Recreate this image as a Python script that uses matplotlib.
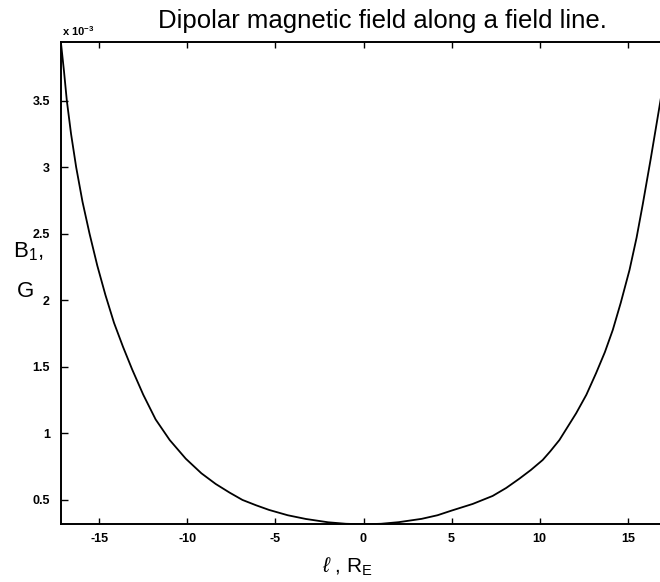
import matplotlib.pyplot as plt
from matplotlib.ticker import FuncFormatter

plt.rcParams['font.family'] = ['Liberation Sans', 'DejaVu Sans']
plt.rcParams['mathtext.fontset'] = 'custom'
plt.rcParams['mathtext.rm'] = 'Liberation Sans'
plt.rcParams['mathtext.it'] = 'Liberation Sans:italic'
plt.rcParams['mathtext.bf'] = 'Liberation Sans:bold'
plt.rcParams['axes.unicode_minus'] = False

# distance along the field line, R_E
ell = [-17.17, -17.0, -16.84, -16.6, -16.31, -15.95, -15.55, -15.11, -14.65,
       -14.16, -13.65, -13.13, -12.5, -11.8, -11.0, -10.09, -9.2, -8.39,
       -7.6, -6.87, -6.1, -5.36, -4.3, -3.27, -2.0, -1.0, 0.0,
       1.0, 2.0, 3.3, 4.2, 5.0, 6.2, 7.33, 8.1, 8.85, 9.5, 10.17, 10.6,
       11.12, 12.07, 12.65, 13.2, 13.7, 14.15, 14.6, 15.1, 15.5, 15.85, 16.3,
       16.8, 17.17]
# field magnitude, units of 1e-3 G
b_field = [3.93, 3.72, 3.5, 3.25, 3.0, 2.74, 2.5, 2.26, 2.04,
           1.83, 1.65, 1.48, 1.29, 1.105, 0.95, 0.81, 0.70, 0.62,
           0.555, 0.5, 0.46, 0.425, 0.385, 0.357, 0.332, 0.321, 0.317,
           0.321, 0.333, 0.358, 0.385, 0.42, 0.47, 0.53, 0.59, 0.66, 0.725,
           0.80, 0.865, 0.95, 1.151, 1.29, 1.452, 1.61, 1.777, 1.98, 2.228,
           2.47, 2.72, 3.06, 3.455, 3.75]
x_ticks = [-15, -10, -5, 0, 5, 10, 15]
y_ticks = [0.5, 1.0, 1.5, 2.0, 2.5, 3.0, 3.5]

W, H = 660, 582
fig = plt.figure(figsize=(W / 100, H / 100), dpi=100)
# right edge of the box falls just outside the picture, as in the scan
ax = fig.add_axes([61 / W, (H - 524.3) / H, 605 / W, 481.8 / H])

ax.plot(ell, [b * 1e-3 for b in b_field], color='black', lw=1.3)
ax.set_xlim(-17.17, 17.17)
ax.set_ylim(0.317e-3, 3.936e-3)
ax.set_xticks(x_ticks)
ax.set_yticks([t * 1e-3 for t in y_ticks])
ax.yaxis.set_major_formatter(FuncFormatter(lambda v, p: '%g' % round(v * 1e3, 3)))
ax.tick_params(axis='x', direction='in', length=4, width=1, top=True,
               pad=6, labelsize=9)
ax.tick_params(axis='y', direction='in', length=5, width=1,
               pad=8, labelsize=9)
for lab in ax.get_xticklabels() + ax.get_yticklabels():
    lab.set_fontweight('bold')
for sp in ax.spines.values():
    sp.set_linewidth(1.4)

fig.text(62 / W, 1 - 36 / H, r'x 10$^{\mathbf{-3}}$', fontsize=8,
         fontweight='bold', ha='left', va='baseline')
fig.text(382 / W, 1 - 28 / H, 'Dipolar magnetic field along a field line.',
         fontsize=18.5, ha='center', va='baseline')
fig.text(13 / W, 1 - 257 / H, r'B$_\mathrm{1}$,', fontsize=16,
         ha='left', va='baseline')
fig.text(25 / W, 1 - 297 / H, 'G', fontsize=16, ha='center', va='baseline')
fig.text(347 / W, 1 - 573 / H, r'$\ell$ , R$_\mathrm{E}$', fontsize=15,
         ha='center', va='baseline')

fig.savefig('out.png', dpi=100)
